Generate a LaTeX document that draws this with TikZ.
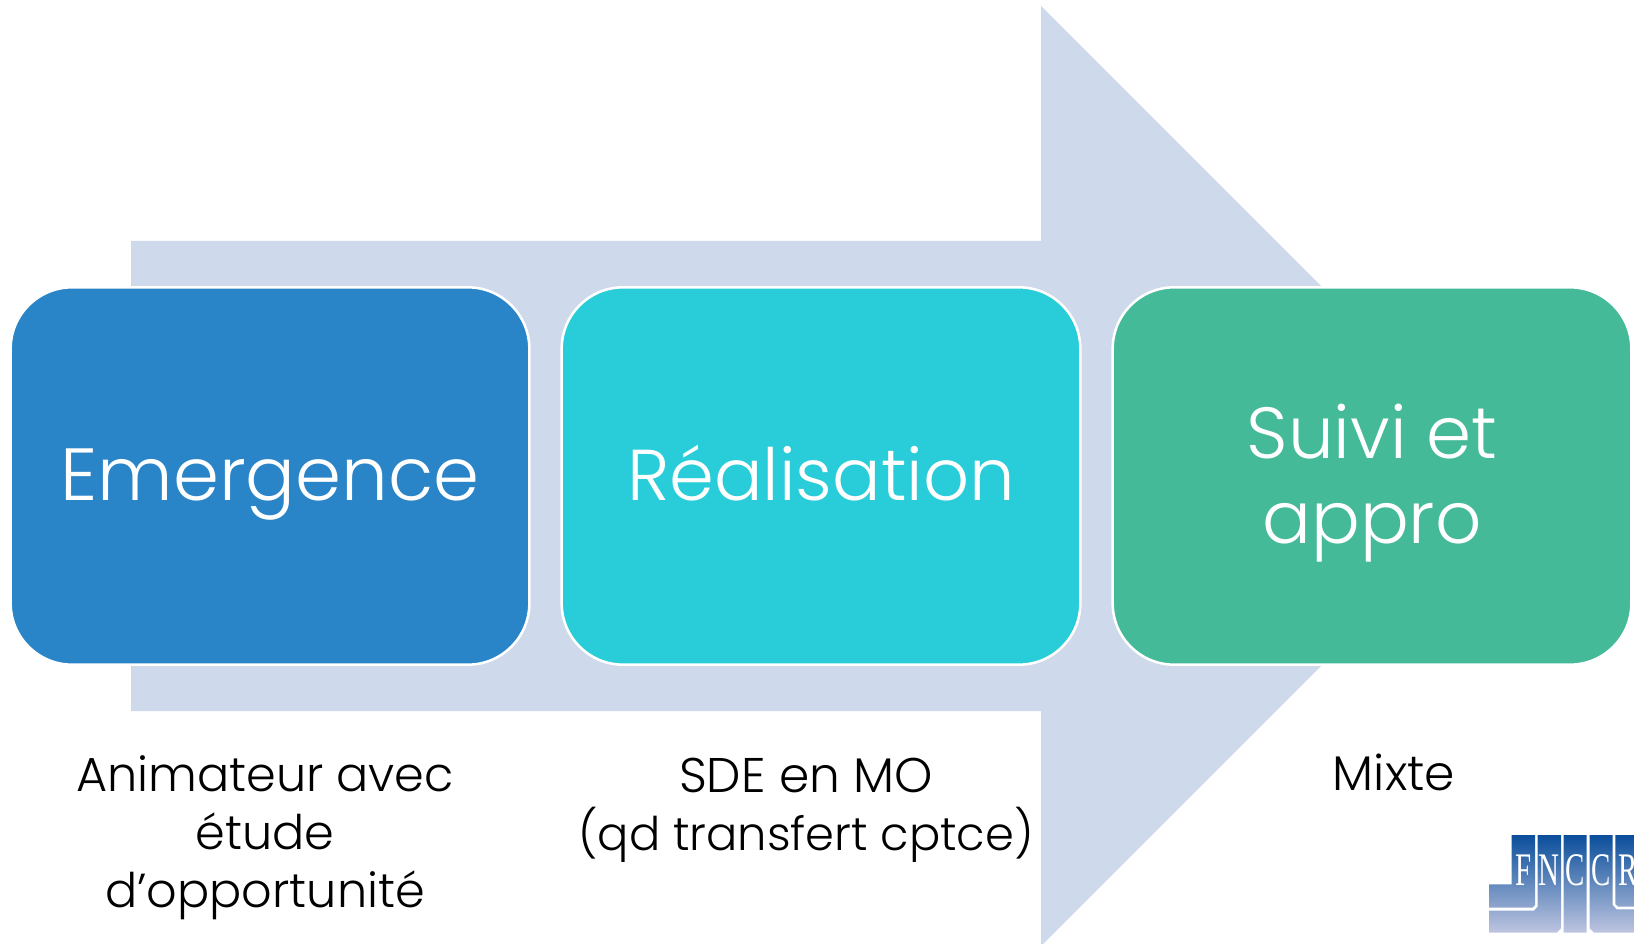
\documentclass[tikz,border=0pt]{standalone}
\usepackage{fontspec}
\setmainfont[UprightFont=* Light]{Poppins}
\newfontfamily\logofont{Liberation Serif}
\definecolor{arrowfill}{HTML}{CED9EB}
\definecolor{boxblue}{HTML}{2A84C8}
\definecolor{boxcyan}{HTML}{29CDD9}
\definecolor{boxgreen}{HTML}{44BA98}
\newcommand{\liftlines}[2]{\raisebox{#1}[0pt][0pt]{\begin{tabular}{@{}c@{}}#2\end{tabular}}}
\tikzset{
  phase/.style={draw=white,line width=1.9pt,rounded corners=46pt,minimum width=389pt,minimum height=283pt,inner sep=0pt,text=white,align=center,anchor=center},
  who/.style={text=black,align=center,inner sep=0pt},
  logoletter/.style={text=white,inner sep=0pt,anchor=base,xscale=0.62,font=\logofont\fontsize{35}{35}\selectfont}
}
\begin{document}
\begin{tikzpicture}[x=0.75pt,y=-0.75pt]
\useasboundingbox (0,0) rectangle (1634,944);
\begin{scope}
\clip (0,0) rectangle (1634,944);
\fill[arrowfill] (131,241) -- (1041,241) -- (1041,6) -- (1511,476) -- (1041,946) -- (1041,711) -- (131,711) -- cycle;
\end{scope}
\node[phase,fill=boxblue,font=\fontsize{55.4}{66}\selectfont] (emergence) at (270,476) {\liftlines{-11.5pt}{Emergence}};
\node[phase,fill=boxcyan,font=\fontsize{54}{65}\selectfont] (realisation) at (821,476) {\liftlines{-11.5pt}{Réalisation}};
\node[phase,fill=boxgreen,font=\fontsize{54.3}{63.5}\selectfont] (suivi) at (1372,476) {\liftlines{-12.5pt}{Suivi et\\appro}};
\node[who,font=\fontsize{35.8}{43.5}\selectfont] (animateur) at (265,838) {Animateur avec\\étude\\d’opportunité};
\node[who,font=\fontsize{34.8}{43.5}\selectfont] (sde) at (806,810) {{\fontsize{36.5}{43.5}\selectfont SDE en MO}\\(qd transfert cptce)};
\node[who,font=\fontsize{36.5}{43.5}\selectfont] (mixte) at (1394,772) {Mixte};
% logo
\begin{scope}[shift={(1434,800)},x=0.25pt,y=-0.25pt]
\begin{scope}
\clip (233,105) -- (303,105) -- (303,315) -- (295,323) -- (165,323) -- (165,253) -- (233,253) -- cycle
      (311,105) -- (381,105) -- (381,385) -- (368,398) -- (165,398) -- (165,332) -- (300,332) -- (311,320) -- cycle
      (389,105) -- (458,105) -- (458,398) -- (389,398) -- cycle
      (467,105) -- (536,105) -- (536,315) -- (548,328) -- (600,328) -- (600,398) -- (480,398) -- (467,385) -- cycle
      (544,105) -- (600,105) -- (600,320) -- (552,320) -- (544,312) -- cycle;
\shade[top color={rgb,255:red,10;green,78;blue,155},middle color={rgb,255:red,92;green,122;blue,180},bottom color={rgb,255:red,190;green,197;blue,224}] (160,105) rectangle (600,398);
\end{scope}
\end{scope}
\node[logoletter] (logoF) at (1524,885) {F};
\node[logoletter] (logoN) at (1549,885) {N};
\node[logoletter] (logoC) at (1575,885) {C};
\node[logoletter] (logoCb) at (1601,885) {C};
\node[logoletter] (logoR) at (1628,885) {R};
\end{tikzpicture}
\end{document}
